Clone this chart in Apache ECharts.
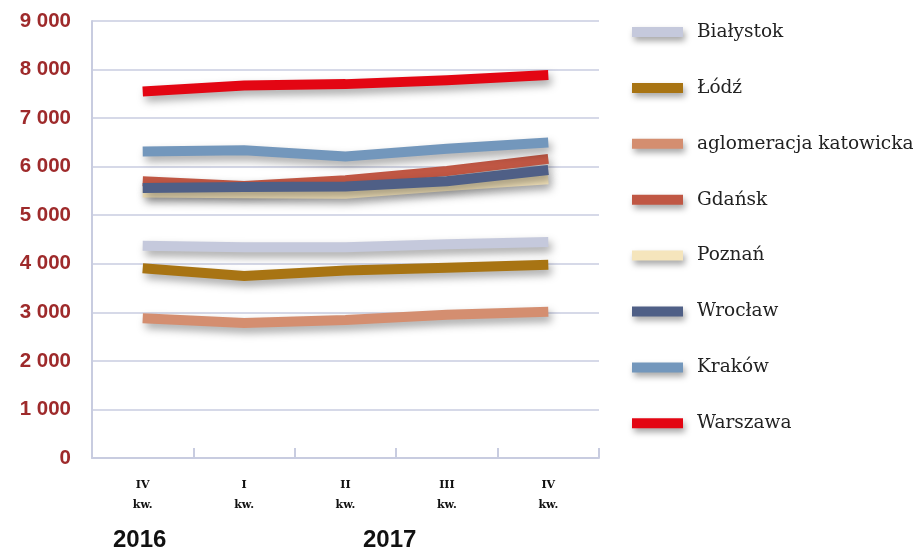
<!DOCTYPE html>
<html>
<head>
<meta charset="utf-8">
<script src="https://cdn.jsdelivr.net/npm/echarts@6/dist/echarts.min.js"></script>
<style>html,body{margin:0;padding:0;background:#fff}#c{width:921px;height:551px}</style>
</head>
<body>
<div id="c"></div>
<script>
const categories = ['IV\nkw.', 'I\nkw.', 'II\nkw.', 'III\nkw.', 'IV\nkw.'];
const years = ['2016', '2017'];
const seriesNames = ['Białystok', 'Łódź', 'aglomeracja katowicka', 'Gdańsk', 'Poznań', 'Wrocław', 'Kraków', 'Warszawa'];
const bialystok = [4370, 4340, 4340, 4400, 4450];
const lodz = [3910, 3750, 3860, 3920, 3980];
const katowicka = [2880, 2780, 2840, 2950, 3010];
const gdansk = [5700, 5600, 5720, 5910, 6160];
const poznan = [5470, 5450, 5440, 5600, 5740];
const wroclaw = [5560, 5580, 5590, 5700, 5930];
const krakow = [6310, 6340, 6210, 6370, 6500];
const warszawa = [7550, 7670, 7700, 7780, 7890];
const seriesData = [bialystok, lodz, katowicka, gdansk, poznan, wroclaw, krakow, warszawa];
const colors = ['#c5c9dc', '#a87413', '#d48e70', '#c05744', '#f5e5bc', '#4f5f86', '#7397bc', '#e30613'];

const chart = echarts.init(document.getElementById('c'));
const gridColor = '#c8cce0';
chart.setOption({
  animation: false,
  backgroundColor: '#fff',
  grid: { left: 92, right: 322, top: 21, bottom: 93 },
  legend: {
    orient: 'vertical',
    left: 632, top: 21,
    padding: 0,
    icon: 'rect',
    itemWidth: 51, itemHeight: 10,
    itemGap: 33.9,
    textStyle: { fontFamily: 'DejaVu Serif', fontSize: 18.5, color: '#222', lineHeight: 22, padding: [0, 0, 0, 9] },
    itemStyle: { shadowColor: 'rgba(0,0,0,0.35)', shadowBlur: 6, shadowOffsetY: 4, shadowOffsetX: 2 },
    data: seriesNames
  },
  xAxis: {
    type: 'category',
    data: categories,
    boundaryGap: true,
    axisLine: { lineStyle: { color: gridColor, width: 2 } },
    axisTick: { show: true, inside: true, length: 10, lineStyle: { color: gridColor, width: 2 } },
    axisLabel: { fontFamily: 'DejaVu Serif', fontWeight: 'bold', fontSize: 11, color: '#111', lineHeight: 20, margin: 17 }
  },
  yAxis: {
    type: 'value',
    min: 0, max: 9000, interval: 1000,
    axisLine: { show: true, lineStyle: { color: gridColor, width: 2 } },
    axisTick: { show: false },
    splitLine: { lineStyle: { color: gridColor, width: 1.5 } },
    axisLabel: {
      margin: 21,
      fontFamily: 'Liberation Sans', fontWeight: 'bold', fontSize: 20.5, color: '#9e2a2b',
      formatter: v => v >= 1000 ? Math.floor(v / 1000) + ' ' + String(v % 1000).padStart(3, '0') : String(v)
    }
  },
  graphic: years.map((y, i) => ({
    type: 'text',
    left: i === 0 ? 113 : 363,
    top: 528,
    style: { text: y, font: 'bold 24px "Liberation Sans"', fill: '#111' }
  })),
  series: seriesNames.map((n, i) => ({
    name: n,
    type: 'line',
    data: seriesData[i],
    symbol: 'none',
    color: colors[i],
    itemStyle: { color: colors[i] },
    lineStyle: { color: colors[i], width: 10, cap: 'butt', join: 'miter', shadowColor: 'rgba(0,0,0,0.35)', shadowBlur: 8, shadowOffsetY: 5, shadowOffsetX: 3 },
    z: 2 + i
  }))
});
</script>
</body>
</html>
